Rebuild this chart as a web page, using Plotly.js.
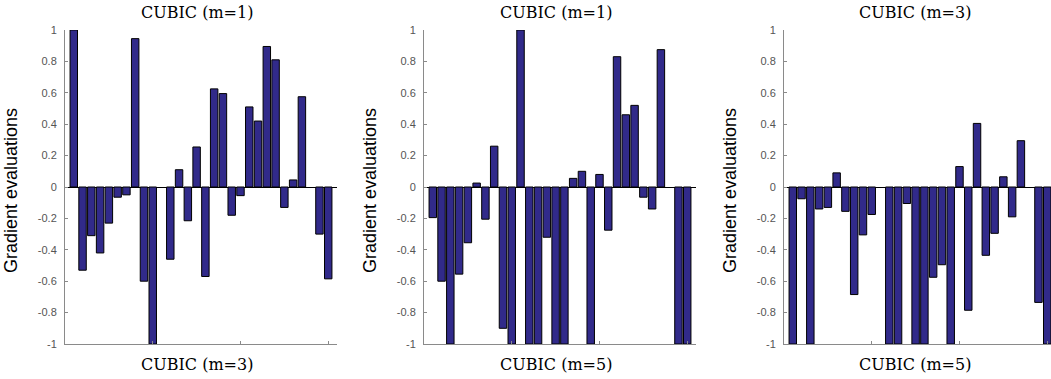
<!DOCTYPE html>
<html>
<head>
<meta charset="utf-8">
<script src="https://cdn.plot.ly/plotly-3.0.1.min.js"></script>
<style>
html,body{margin:0;padding:0;background:#fff;overflow:hidden;}
#chart{width:1051px;height:379px;}
</style>
</head>
<body>
<div id="chart"></div>
<script>
const trials = [1,2,3,4,5,6,7,8,9,10,11,12,13,14,15,16,17,18,19,20,21,22,23,24,25,26,27,28,29,30];

const panel1Values = [1.0,-0.53,-0.31,-0.42,-0.23,-0.065,-0.05,0.945,-0.6,-1.0,null,-0.46,0.11,-0.215,0.255,-0.57,0.625,0.595,-0.18,-0.055,0.51,0.42,0.895,0.81,-0.13,0.045,0.575,null,-0.3,-0.585];
const panel2Values = [-0.195,-0.6,-1.0,-0.555,-0.355,0.025,-0.205,0.26,-0.9,-1.0,1.0,-1.0,-1.0,-0.32,-1.0,-1.0,0.055,0.1,-1.0,0.08,-0.275,0.83,0.46,0.52,-0.065,-0.14,0.875,null,-1.0,-1.0];
const panel3Values = [-1.0,-0.075,-1.0,-0.14,-0.13,0.09,-0.155,-0.685,-0.305,-0.175,null,-1.0,-1.0,-0.105,-1.0,-1.0,-0.575,-0.495,-1.0,0.13,-0.785,0.405,-0.435,-0.295,0.065,-0.19,0.295,null,-0.735,-1.0];

const topTitles = ["CUBIC (m=1)", "CUBIC (m=1)", "CUBIC (m=3)"];
const bottomTitles = ["CUBIC (m=3)", "CUBIC (m=5)", "CUBIC (m=5)"];
const yLabel = "Gradient evaluations";
const yTickVals = [-1,-0.8,-0.6,-0.4,-0.2,0,0.2,0.4,0.6,0.8,1];
const yTickText = ["-1","-0.8","-0.6","-0.4","-0.2","0","0.2","0.4","0.6","0.8","1"];
const xTickVals = [10,20,30];

const W = 1051, H = 379;
const barColor = 'rgb(49,42,138)';
const axisGray = '#8a8a8a';

const seriesList = [panel1Values, panel2Values, panel3Values];
const axisIds = ['', '2', '3'];

const traces = seriesList.map((vals, i) => ({
  type: 'bar',
  x: trials,
  y: vals,
  xaxis: 'x' + axisIds[i],
  yaxis: 'y' + axisIds[i],
  width: 0.85,
  marker: {color: barColor, line: {color: '#000', width: 1}},
  hoverinfo: 'skip',
  showlegend: false
}));

// pixel layout
const plotLeft = [65, 424, 784];
const plotWidthPx = 272;
const pxPerUnit = plotWidthPx / 31;
const plotTop = 30, plotBottom = 344;
const yDomain = [1 - plotBottom / H, 1 - plotTop / H];

const layout = {
  width: W, height: H,
  margin: {l: 0, r: 0, t: 0, b: 0},
  paper_bgcolor: '#fff',
  plot_bgcolor: '#fff',
  showlegend: false,
  annotations: []
};

const titleX = [197, 556, 915];
const labelX = [11, 370, 730];

for (let i = 0; i < 3; i++) {
  const left = plotLeft[i];
  const right = Math.min(W, left + plotWidthPx);
  const xr = (right - left) / pxPerUnit;
  layout['xaxis' + axisIds[i]] = {
    domain: [left / W, right / W],
    range: [0, xr],
    anchor: 'y' + axisIds[i],
    showgrid: false,
    zeroline: false,
    showline: true,
    linecolor: axisGray,
    linewidth: 1,
    ticks: 'inside',
    ticklen: 3,
    tickcolor: axisGray,
    tickvals: xTickVals,
    showticklabels: false,
    fixedrange: true
  };
  layout['yaxis' + axisIds[i]] = {
    domain: yDomain,
    range: [-1, 1],
    anchor: 'x' + axisIds[i],
    showgrid: false,
    zeroline: true,
    zerolinecolor: '#000',
    zerolinewidth: 1,
    showline: true,
    linecolor: axisGray,
    linewidth: 1,
    ticks: 'inside',
    ticklen: 3,
    tickcolor: axisGray,
    tickvals: yTickVals,
    ticktext: yTickText,
    ticklabelstandoff: 5,
    tickfont: {family: 'Liberation Sans, Arial, sans-serif', size: 11, color: '#555'},
    fixedrange: true
  };
  layout.annotations.push({
    text: topTitles[i], xref: 'paper', yref: 'paper',
    x: titleX[i] / W, y: 1 - 12 / H, xanchor: 'center', yanchor: 'middle',
    showarrow: false,
    font: {family: 'DejaVu Serif, serif', size: 16, color: '#000'}
  });
  layout.annotations.push({
    text: bottomTitles[i], xref: 'paper', yref: 'paper',
    x: titleX[i] / W, y: 1 - 364 / H, xanchor: 'center', yanchor: 'middle',
    showarrow: false,
    font: {family: 'DejaVu Serif, serif', size: 16, color: '#000'}
  });
  layout.annotations.push({
    text: yLabel, xref: 'paper', yref: 'paper',
    x: labelX[i] / W, y: 1 - 191 / H, xanchor: 'center', yanchor: 'middle',
    textangle: -90, showarrow: false,
    font: {family: 'Liberation Sans, Arial, sans-serif', size: 18, color: '#000'}
  });
}

Plotly.newPlot('chart', traces, layout, {displayModeBar: false, staticPlot: true});
</script>
</body>
</html>
